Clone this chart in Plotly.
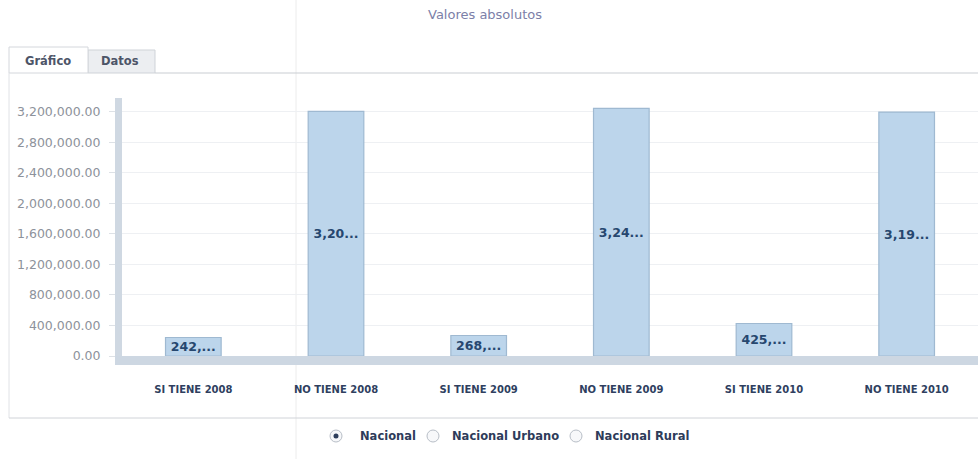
import plotly.graph_objects as go

categories = ["SI TIENE 2008", "NO TIENE 2008", "SI TIENE 2009",
              "NO TIENE 2009", "SI TIENE 2010", "NO TIENE 2010"]
values = [242500, 3205000, 268300, 3245000, 425600, 3195000]
tick_vals = [0, 400000, 800000, 1200000, 1600000, 2000000, 2400000, 2800000, 3200000]
tick_text = [f"{v:,.2f}" for v in tick_vals]
bar_labels = [f"{v:,.0f}"[:4] + "..." for v in values]
radio_labels = ["Nacional", "Nacional Urbano", "Nacional Rural"]

W, H = 978, 459
L, R, T, B = 122, 0, 98, 103
PW, PH = W - L - R, H - T - B


def px(x):
    return (x - L) / PW


def py(y):
    return (H - B - y) / PH


fig = go.Figure()
fig.add_trace(go.Bar(
    x=categories, y=values, width=0.39,
    marker=dict(color="#bcd5eb", line=dict(color="#9fb9d1", width=1.2)),
    text=bar_labels, textposition="inside", insidetextanchor="middle",
    constraintext="none",
    textfont=dict(family="DejaVu Sans", size=12.5, color="#26476f", weight="bold"),
    hoverinfo="skip",
))

shapes = []
# tabs & panel
shapes.append(dict(type="rect", xref="paper", yref="paper",
                   x0=px(88), x1=px(155), y0=py(73), y1=py(50),
                   line=dict(color="#cfd3d8", width=1), fillcolor="#eceef1", layer="below"))
shapes.append(dict(type="rect", xref="paper", yref="paper",
                   x0=px(9), x1=px(88), y0=py(73), y1=py(47),
                   line=dict(color="#d4d7dc", width=1), fillcolor="#ffffff", layer="below"))
shapes.append(dict(type="line", xref="paper", yref="paper",
                   x0=px(155), x1=px(978), y0=py(73), y1=py(73),
                   line=dict(color="#c9cdd2", width=1)))
shapes.append(dict(type="line", xref="paper", yref="paper",
                   x0=px(9), x1=px(9), y0=py(73), y1=py(418),
                   line=dict(color="#e0e2e6", width=1)))
shapes.append(dict(type="line", xref="paper", yref="paper",
                   x0=px(9), x1=px(978), y0=py(418), y1=py(418),
                   line=dict(color="#d0d3d8", width=1)))
# faint background page line
shapes.append(dict(type="line", xref="paper", yref="paper",
                   x0=px(296), x1=px(296), y0=py(0), y1=py(459),
                   line=dict(color="#ececec", width=1), layer="below"))
# radio buttons
radio_x = [336, 433, 576]
radio_text_x = [358, 450, 593]
for i, cx in enumerate(radio_x):
    shapes.append(dict(type="circle", xref="paper", yref="paper",
                       x0=px(cx - 6), x1=px(cx + 6), y0=py(442), y1=py(430),
                       line=dict(color="#b8bec7", width=1), fillcolor="#f7f8fa"))
    if i == 0:
        shapes.append(dict(type="circle", xref="paper", yref="paper",
                           x0=px(cx - 2.5), x1=px(cx + 2.5), y0=py(438.5), y1=py(433.5),
                           line=dict(width=0), fillcolor="#2d3e5c"))

annotations = [
    dict(text="Valores absolutos", x=px(485), y=py(14), xref="paper", yref="paper",
         showarrow=False, xanchor="center", yanchor="middle",
         font=dict(family="DejaVu Sans", size=13, color="#7c80a8")),
    dict(text="<b>Gráfico</b>", x=px(48), y=py(61), xref="paper", yref="paper",
         showarrow=False, xanchor="center", yanchor="middle",
         font=dict(family="DejaVu Sans", size=11.5, color="#4d5568")),
    dict(text="<b>Datos</b>", x=px(120), y=py(61), xref="paper", yref="paper",
         showarrow=False, xanchor="center", yanchor="middle",
         font=dict(family="DejaVu Sans", size=11.5, color="#4d5568")),
]
for tx, lab in zip(radio_text_x, radio_labels):
    annotations.append(dict(text=f"<b>{lab}</b>", x=px(tx), y=py(436),
                            xref="paper", yref="paper", showarrow=False,
                            xanchor="left", yanchor="middle",
                            font=dict(family="DejaVu Sans", size=11.5, color="#2e3c5a")))

fig.update_layout(
    width=W, height=H,
    margin=dict(l=L, r=R, t=T, b=B, pad=0),
    paper_bgcolor="#ffffff", plot_bgcolor="#ffffff",
    showlegend=False,
    bargap=0.61,
    shapes=shapes, annotations=annotations,
    xaxis=dict(
        showgrid=False, showline=True, linecolor="#cdd7e2", linewidth=9,
        ticks="", ticklabelstandoff=16, fixedrange=True,
        tickfont=dict(family="DejaVu Sans", size=10, color="#2f3f5f", weight="bold"),
    ),
    yaxis=dict(
        range=[0, 3380000], tickvals=tick_vals, ticktext=tick_text,
        showgrid=True, gridcolor="#eef0f3", gridwidth=1, zeroline=False,
        showline=True, linecolor="#cfd8e2", linewidth=7,
        ticks="outside", ticklen=6, tickcolor="#dde1e6", tickwidth=1,
        ticklabelstandoff=6, fixedrange=True,
        tickfont=dict(family="DejaVu Sans", size=12.5, color="#8d929b"),
    ),
)

fig.write_html("out.html")
